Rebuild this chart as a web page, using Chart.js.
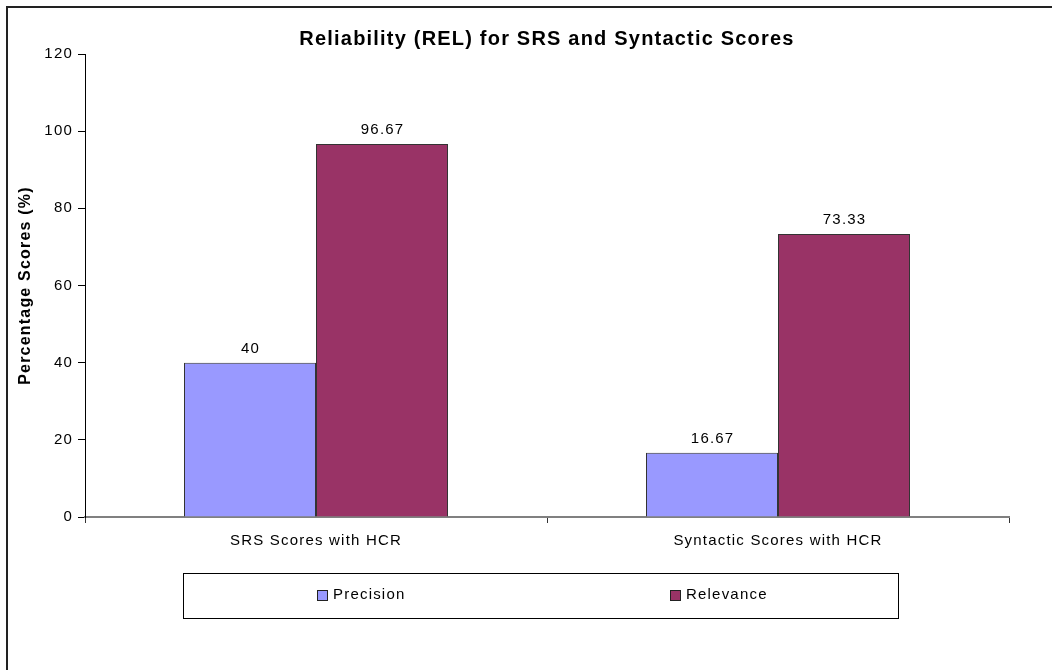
<!DOCTYPE html>
<html>
<head>
<meta charset="utf-8">
<script src="https://cdn.jsdelivr.net/npm/chart.js@4.4.0/dist/chart.umd.min.js"></script>
<style>
    body { margin: 0; background: #fff; }
    #wrap { width: 1052px; height: 670px; }
</style>
</head>
<body>
<div id="wrap"><canvas id="rel-chart" width="1052" height="670"></canvas></div>
<script>
// chart data
const categories = ['SRS Scores with HCR', 'Syntactic Scores with HCR'];
const precisionScores = [40, 16.67];
const relevanceScores = [96.67, 73.33];
const yTicks = [0, 20, 40, 60, 80, 100, 120];

const fontFamily = '"Liberation Sans", Arial, sans-serif';
const spacing = '1.2px';

// the old Excel text is drawn a bit wider, so add some letter spacing
const wideText = {
    id: 'wideText',
    beforeUpdate(chart) { chart.ctx.letterSpacing = spacing; },
    beforeLayout(chart) { chart.ctx.letterSpacing = spacing; },
    beforeDraw(chart) { chart.ctx.letterSpacing = spacing; }
};

// value labels above each bar
const valueLabels = {
    id: 'valueLabels',
    afterDatasetsDraw(chart) {
        const ctx = chart.ctx;
        ctx.save();
        ctx.font = '15px ' + fontFamily;
        ctx.fillStyle = '#000';
        ctx.textAlign = 'center';
        ctx.textBaseline = 'alphabetic';
        chart.data.datasets.forEach(function(ds, i) {
            chart.getDatasetMeta(i).data.forEach(function(bar, j) {
                ctx.fillText(String(ds.data[j]), bar.x + 0.6, bar.y - 10);
            });
        });
        ctx.restore();
    }
};

// outer frame and boxed legend, Excel style
const frameAndLegend = {
    id: 'frameAndLegend',
    afterDraw(chart) {
        const ctx = chart.ctx;
        ctx.save();
        ctx.strokeStyle = '#222';
        ctx.lineWidth = 2;
        ctx.beginPath();
        ctx.moveTo(7, 670);
        ctx.lineTo(7, 7);
        ctx.lineTo(1052, 7);
        ctx.stroke();

        // legend box
        ctx.lineWidth = 1;
        ctx.strokeStyle = '#000';
        ctx.strokeRect(183.5, 573.5, 715, 45);

        const itemX = [317, 670];
        ctx.font = '15px ' + fontFamily;
        ctx.textBaseline = 'middle';
        ctx.textAlign = 'left';
        chart.data.datasets.forEach(function(ds, i) {
            ctx.fillStyle = ds.backgroundColor;
            ctx.fillRect(itemX[i] + 0.5, 590.5, 10, 10);
            ctx.strokeStyle = '#222';
            ctx.strokeRect(itemX[i] + 0.5, 590.5, 10, 10);
            ctx.fillStyle = '#000';
            ctx.fillText(ds.label, itemX[i] + 16, 595);
        });
        ctx.restore();
    }
};

new Chart(document.getElementById('rel-chart').getContext('2d'), {
    type: 'bar',
    data: {
        labels: categories,
        datasets: [{
            label: 'Precision',
            data: precisionScores,
            backgroundColor: '#9999FF',
            borderColor: '#333',
            borderWidth: 1
        }, {
            label: 'Relevance',
            data: relevanceScores,
            backgroundColor: '#993366',
            borderColor: '#333',
            borderWidth: 1
        }]
    },
    options: {
        responsive: false,
        animation: false,
        devicePixelRatio: 1,
        layout: { padding: { top: 0, left: 0, right: 43, bottom: 113 } },
        datasets: {
            bar: { categoryPercentage: 0.5714, barPercentage: 1 }
        },
        plugins: {
            legend: { display: false },
            tooltip: { enabled: false },
            title: {
                display: true,
                fullSize: false,
                text: 'Reliability (REL) for SRS and Syntactic Scores',
                color: '#000',
                font: { family: fontFamily, size: 20, weight: 'bold' },
                padding: { top: 27, bottom: 3 }
            }
        },
        scales: {
            x: {
                grid: {
                    offset: true,
                    drawOnChartArea: false,
                    tickLength: 6,
                    color: '#333'
                },
                border: { color: '#808080', width: 2 },
                ticks: {
                    color: '#000',
                    padding: 9,
                    font: { family: fontFamily, size: 15 }
                },
                afterFit(scale) { scale.height = 40; }
            },
            y: {
                min: 0,
                max: 120,
                afterBuildTicks(scale) {
                    scale.ticks = yTicks.map(function(v) { return { value: v }; });
                },
                grid: {
                    drawOnChartArea: false,
                    tickLength: 7,
                    color: '#000'
                },
                border: { color: '#000', width: 1 },
                ticks: {
                    color: '#000',
                    padding: 5,
                    font: { family: fontFamily, size: 15 }
                },
                title: {
                    display: true,
                    text: 'Percentage Scores (%)',
                    color: '#000',
                    font: { family: fontFamily, size: 16, weight: 'bold' },
                    padding: { top: 16, bottom: 0 }
                },
                afterFit(scale) { scale.width = 85; }
            }
        }
    },
    plugins: [wideText, valueLabels, frameAndLegend]
});
</script>
</body>
</html>
